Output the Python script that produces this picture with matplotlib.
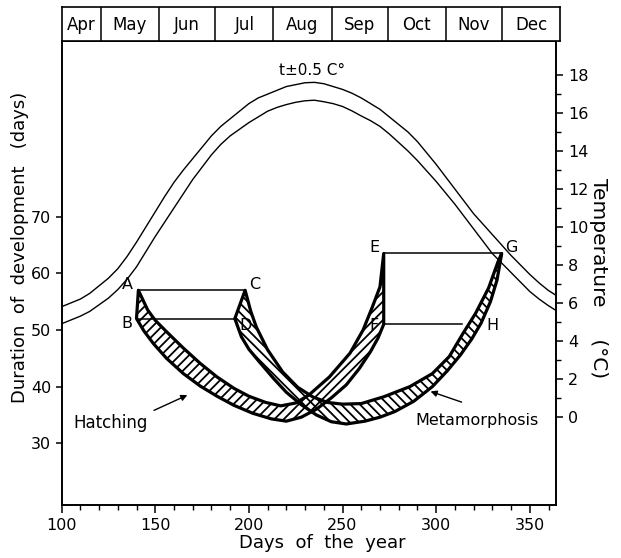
import matplotlib
matplotlib.use("Agg")
import matplotlib.pyplot as plt
from matplotlib.patches import Polygon
from matplotlib.collections import LineCollection
from matplotlib.transforms import IdentityTransform
import numpy as np

plt.rcParams['font.family'] = ['DejaVu Sans']

# ---------------- data ----------------
month_names = ["Apr", "May", "Jun", "Jul", "Aug", "Sep", "Oct", "Nov", "Dec"]
month_starts = [91, 121, 152, 182, 213, 244, 274, 305, 335, 366]

temp_days = [100, 105, 110, 115, 120, 125, 130, 135, 140, 145, 150, 155, 160, 165, 170, 175,
             180, 185, 190, 195, 200, 205, 210, 215, 220, 225, 230, 235, 240, 245, 250, 255,
             260, 265, 270, 275, 280, 285, 290, 295, 300, 305, 310, 315, 320, 325, 330, 335,
             340, 345, 350, 355, 360, 364]
temp_upper = [5.8, 6.0, 6.2, 6.5, 6.9, 7.3, 7.8, 8.45, 9.2, 10.0, 10.8, 11.6, 12.35, 13.0, 13.6, 14.2,
              14.8, 15.3, 15.7, 16.1, 16.5, 16.8, 17.0, 17.2, 17.4, 17.5, 17.6, 17.62, 17.55, 17.4, 17.25, 17.05,
              16.8, 16.5, 16.2, 15.8, 15.4, 15.0, 14.5, 13.9, 13.3, 12.65, 12.0, 11.35, 10.7, 10.15, 9.6, 9.05,
              8.5, 8.0, 7.5, 7.05, 6.65, 6.4]
temp_lower = [4.9, 5.1, 5.3, 5.55, 5.9, 6.25, 6.7, 7.25, 7.9, 8.7, 9.5, 10.25, 11.0, 11.75, 12.5, 13.15,
              13.8, 14.35, 14.8, 15.15, 15.5, 15.8, 16.1, 16.3, 16.45, 16.57, 16.65, 16.68, 16.6, 16.5, 16.35, 16.12,
              15.85, 15.6, 15.3, 14.9, 14.45, 14.0, 13.5, 12.95, 12.4, 11.8, 11.2, 10.55, 9.9, 9.25, 8.6, 8.1,
              7.6, 7.1, 6.6, 6.2, 5.85, 5.6]

# Hatching band (B -> F outer edge, A -> E inner edge)
hatch_outer_days = [140, 144, 149, 156, 165, 174, 183, 192, 202, 212, 220, 228, 236, 244, 252, 259, 265, 269, 272]
hatch_outer_vals = [52.0, 49.8, 47.6, 45.0, 42.3, 40.1, 38.3, 36.7, 35.3, 34.3, 33.9, 34.6, 36.0, 38.0, 40.3, 43.2, 46.2, 48.6, 51.0]
hatch_inner_days = [141, 146, 150, 156, 165, 174, 183, 192, 200, 209, 217, 225, 232, 243, 254, 261, 266, 270, 272]
hatch_inner_vals = [57.0, 53.5, 51.7, 49.7, 46.8, 44.1, 41.7, 39.7, 38.3, 37.2, 36.6, 37.1, 38.5, 41.7, 45.9, 50.0, 54.1, 57.6, 63.5]

# Metamorphosis band (D -> G outer edge, C -> G inner edge)
meta_outer_days = [192.5, 196, 200, 205, 213, 220, 228, 236, 244, 252, 262, 270, 278, 288, 298, 306, 313, 319, 324, 329, 332.5, 335]
meta_outer_vals = [52.0, 48.8, 46.6, 44.6, 41.5, 39.0, 36.8, 35.0, 33.8, 33.4, 33.9, 34.6, 35.6, 37.4, 40.0, 42.8, 45.6, 48.4, 51.2, 55.0, 58.8, 63.5]
meta_inner_days = [198, 201, 204, 210, 218, 226, 234, 242, 250, 260, 272, 286, 298, 307, 314, 321, 328, 333, 335]
meta_inner_vals = [57.0, 53.3, 50.5, 46.5, 42.6, 39.9, 38.2, 37.2, 36.9, 37.0, 38.2, 40.0, 42.3, 45.3, 49.2, 52.9, 57.4, 62.0, 63.5]

# connecting lines (duration levels)
level_AC = (141, 198, 57.0)
level_BD = (140, 192.5, 52.0)
level_EG = (272, 335, 63.5)
level_FH = (272, 314, 51.0)

point_labels = ["A", "B", "C", "D", "E", "F", "G", "H"]
point_days = [135, 135, 203, 198, 267, 267, 340, 330]
point_vals = [58.1, 51.2, 58.1, 50.7, 64.6, 50.7, 64.6, 50.7]

x_ticks = [100, 150, 200, 250, 300, 350]
y_ticks = [30, 40, 50, 60, 70]
t_ticks = [0, 2, 4, 6, 8, 10, 12, 14, 16, 18]

# ---------------- figure ----------------
W, H = 621, 558
fig = plt.figure(figsize=(W / 100, H / 100), dpi=100)

def fx(px):
    return px / W

def fy(py):
    return 1 - py / H

left_px, right_px, top_px, bottom_px = 61.6, 556, 41, 505
ax = fig.add_axes([fx(left_px), fy(bottom_px), fx(right_px) - fx(left_px), fy(top_px) - fy(bottom_px)])
ax.set_xlim(100, 364)
ax.set_ylim(19.1, 101)

ax2 = ax.twinx()
ax2.set_ylim(-4.65, 19.8)

# month band
axm = fig.add_axes([fx(left_px), fy(top_px), fx(560) - fx(left_px), fy(7) - fy(top_px)])
axm.set_xlim(100, 365.8)
axm.set_ylim(0, 1)
axm.set_xticks([])
axm.set_yticks([])
for s in axm.spines.values():
    s.set_linewidth(1.2)
for ms in month_starts[1:-1]:
    axm.axvline(ms, color='black', lw=1.1)
for i, name in enumerate(month_names):
    a = max(month_starts[i], 100)
    b = min(month_starts[i + 1], 365.8)
    axm.text((a + b) / 2, 0.47, name, ha='center', va='center', fontsize=12)

# temperature curves
ax2.plot(temp_days, temp_upper, color='black', lw=1.0)
ax2.plot(temp_days, temp_lower, color='black', lw=1.0)
ax2.text(234, 18.25, "t±0.5 C°", ha='center', va='center', fontsize=11)

# bands with hand-made hatching (spacing in pixels)
def band(outer_d, outer_v, inner_d, inner_v, direction, spacing=6.6):
    pts = list(zip(outer_d, outer_v)) + list(zip(inner_d[::-1], inner_v[::-1]))
    poly = Polygon(pts, closed=True, facecolor='none', edgecolor='black',
                   lw=2.3, joinstyle='round')
    ax.add_patch(poly)
    step = spacing * np.sqrt(2)
    segs = []
    if direction == '/':
        for c in np.arange(-W, H, step):
            segs.append([(0, c), (W, W + c)])
    else:
        for c in np.arange(0, W + H, step):
            segs.append([(0, c), (W, c - W)])
    lc = LineCollection(segs, colors='black', linewidths=1.3,
                        transform=IdentityTransform())
    ax.add_collection(lc, autolim=False)
    lc.set_clip_path(poly)

band(hatch_outer_days, hatch_outer_vals, hatch_inner_days, hatch_inner_vals, '/')
band(meta_outer_days, meta_outer_vals, meta_inner_days, meta_inner_vals, '\\')

for (d0, d1, v) in [level_AC, level_BD, level_EG, level_FH]:
    ax.plot([d0, d1], [v, v], color='black', lw=1.1)

for lab, d, v in zip(point_labels, point_days, point_vals):
    ax.text(d, v, lab, ha='center', va='center', fontsize=11.5)

arrow = dict(arrowstyle='-|>', color='black', lw=1.0, mutation_scale=9)
ax.annotate("", xy=(168.5, 38.7), xytext=(148, 35.6), arrowprops=arrow)
ax.text(126.3, 33.6, "Hatching", ha='center', va='center', fontsize=12)
ax.annotate("", xy=(295.6, 39.3), xytext=(315, 37.1), arrowprops=arrow)
ax.text(322, 34.1, "Metamorphosis", ha='center', va='center', fontsize=11.5)

# axes styling
for s in ax.spines.values():
    s.set_linewidth(1.2)
ax.set_xticks(x_ticks)
ax.set_xticks(np.arange(100, 365, 10), minor=True)
ax.set_yticks(y_ticks)
ax.tick_params(axis='x', which='major', direction='out', length=6, width=1.1, labelsize=11.5)
ax.tick_params(axis='x', which='minor', direction='out', length=3.5, width=1.0)
ax.tick_params(axis='y', which='major', direction='out', length=4, width=1.1, labelsize=11.5)
ax2.set_yticks(t_ticks)
ax2.set_yticks(np.arange(0, 19, 1), minor=True)
ax2.tick_params(axis='y', which='major', direction='out', length=5, width=1.1, labelsize=11.5)
ax2.tick_params(axis='y', which='minor', direction='out', length=3.5, width=1.0)
for s in ax2.spines.values():
    s.set_linewidth(1.2)

ax.set_xlabel("Days  of  the  year", fontsize=13, labelpad=3)
ax.xaxis.set_label_coords(0.527, -0.062)
ax.set_ylabel("Duration  of  development   (days)", fontsize=13)
ax2.set_ylabel("Temperature     (°C)", fontsize=14.5, rotation=270)
ax.yaxis.set_label_coords(-0.065, 0.555)
ax2.yaxis.set_label_coords(1.105, 0.49)

fig.savefig("out.png", dpi=100)
